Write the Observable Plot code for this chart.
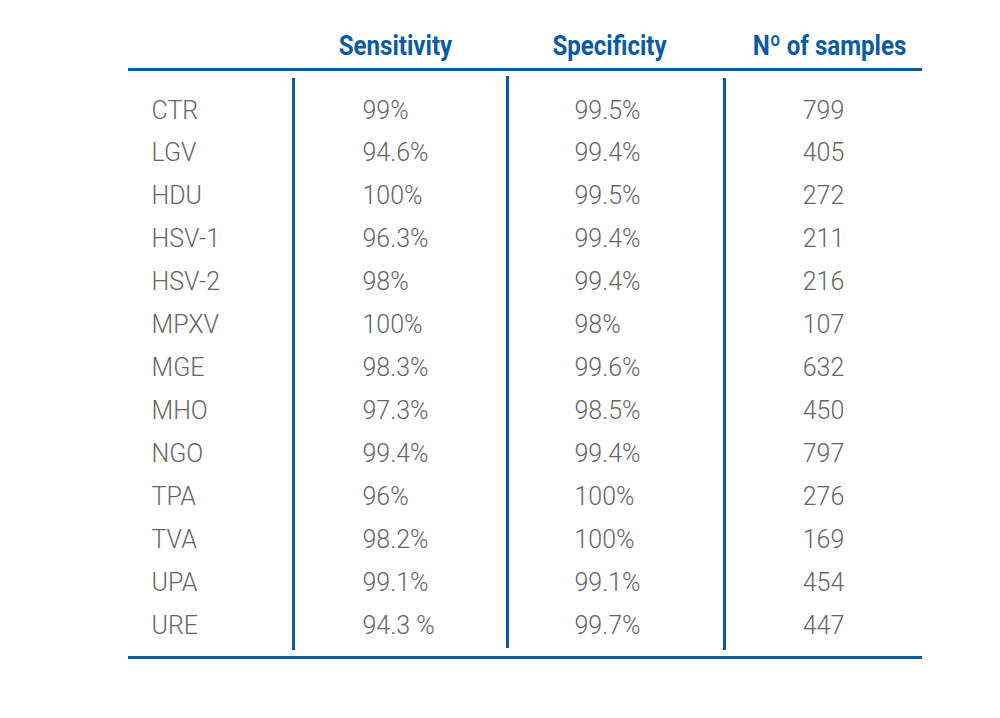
<!DOCTYPE html>
<html>
<head>
<meta charset="utf-8">
<script src="https://cdn.jsdelivr.net/npm/d3@7"></script>
<script src="https://cdn.jsdelivr.net/npm/@observablehq/plot@0.6"></script>
<style>
  html, body { margin: 0; padding: 0; background: #fff; }
  #chart svg { display: block; }
</style>
</head>
<body>
<div id="chart"></div>
<script>
// ---- data ----
const tests = ["CTR","LGV","HDU","HSV-1","HSV-2","MPXV","MGE","MHO","NGO","TPA","TVA","UPA","URE"];
const sensitivity = ["99%","94.6%","100%","96.3%","98%","100%","98.3%","97.3%","99.4%","96%","98.2%","99.1%","94.3 %"];
const specificity = ["99.5%","99.4%","99.5%","99.4%","99.4%","98%","99.6%","98.5%","99.4%","100%","100%","99.1%","99.7%"];
const samples = ["799","405","272","211","216","107","632","450","797","276","169","454","447"];
const headers = ["Sensitivity","Specificity","Nº of samples"];

// ---- layout ----
const W = 1000, H = 718;
const blue = "#0c5a9f", gray = "#666666";
const rowTop = 110, rowStep = (625 - 110) / 12;
const colX = {label: 151, sens: 362, spec: 574, samp: 823};
const headerX = [395, 609, 829];
const headerY = 46;
const tableLeft = 128, tableRight = 922;
const topRuleY = 69, bottomRuleY = 657;
const vlines = [{x: 293, y1: 78, y2: 650}, {x: 507, y1: 76, y2: 648}, {x: 724, y1: 78, y2: 650}];
const condense = 0.86; // header font is a condensed face

const rows = tests.map((t, i) => ({test: t, sens: sensitivity[i], spec: specificity[i], samp: samples[i], y: rowTop + i * rowStep}));
const head = headers.map((h, i) => ({h, x: headerX[i]}));

const bodyFont = {fontFamily: "Roboto", fontSize: 25, fontWeight: 300, fill: gray};

const plot = Plot.plot({
  width: W, height: H,
  margin: 0,
  x: {domain: [0, W], range: [0, W], axis: null},
  y: {domain: [0, H], range: [0, H], axis: null},
  marks: [
    Plot.ruleY([topRuleY, bottomRuleY], {x1: tableLeft, x2: tableRight, stroke: blue, strokeWidth: 3}),
    Plot.ruleX(vlines, {x: "x", y1: "y1", y2: "y2", stroke: blue, strokeWidth: 3}),
    Plot.text(head, {x: "x", y: headerY, text: "h", fill: blue, fontFamily: "Roboto", fontWeight: 700, fontSize: 28, textAnchor: "middle", className: "hdr"}),
    Plot.text(rows, {x: colX.label, y: "y", text: "test", textAnchor: "start", ...bodyFont}),
    Plot.text(rows, {x: colX.sens, y: "y", text: "sens", textAnchor: "start", ...bodyFont}),
    Plot.text(rows, {x: colX.spec, y: "y", text: "spec", textAnchor: "start", ...bodyFont}),
    Plot.text(rows, {x: colX.samp, y: "y", text: "samp", textAnchor: "middle", ...bodyFont})
  ]
});
document.getElementById("chart").appendChild(plot);
d3.select(plot).selectAll(".hdr text").each(function () {
  const L = this.getComputedTextLength();
  d3.select(this).attr("lengthAdjust", "spacingAndGlyphs").attr("textLength", L * condense);
});
</script>
</body>
</html>
